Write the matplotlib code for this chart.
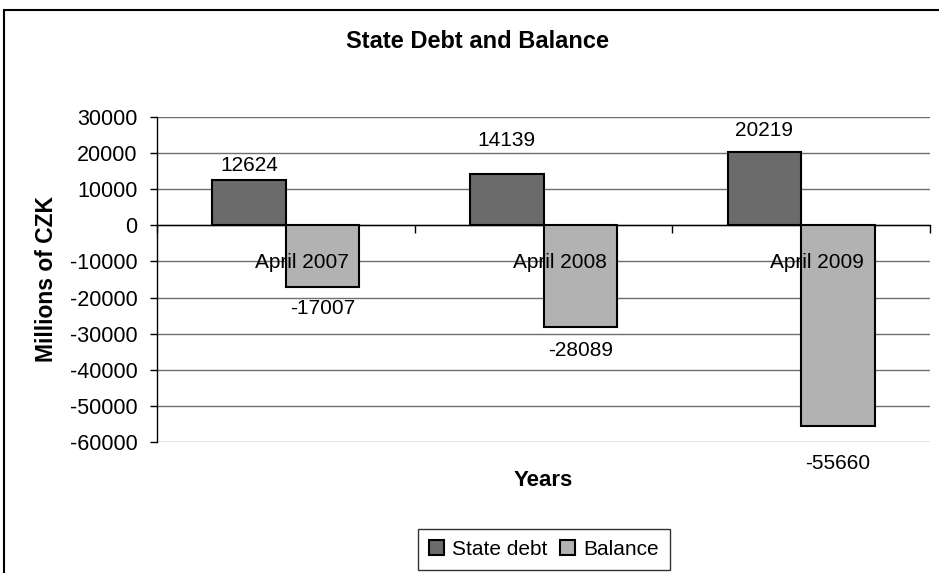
"""State debt and balance, Excel-style grouped bar chart."""

import matplotlib
matplotlib.use('Agg')
import matplotlib.pyplot as plt
from matplotlib.patches import Rectangle
import numpy as np

plt.rcParams['font.family'] = ['Liberation Sans', 'DejaVu Sans']

# data
categories = ['April 2007', 'April 2008', 'April 2009']
state_debt = [12624, 14139, 20219]
balance = [-17007, -28089, -55660]
yticks = list(range(-60000, 30001, 10000))

# label offsets in pixels (Excel put them a bit unevenly)
debt_lbl_off = [14, 34, 22]
bal_lbl_off = [22, 24, 37]

W, H = 939, 573
fig = plt.figure(figsize=(W / 100, H / 100), dpi=100)
ax = fig.add_axes([157 / W, 1 - 442 / H, (930 - 157) / W, (442 - 117) / H])

x = np.arange(len(categories))
bw = 1 / 3.5   # Excel gap width 150%

b1 = ax.bar(x - bw / 2, state_debt, bw, color='#6b6b6b', edgecolor='black',
            linewidth=1.5, label='State debt', zorder=3)
b2 = ax.bar(x + bw / 2, balance, bw, color='#b2b2b2', edgecolor='black',
            linewidth=1.5, label='Balance', zorder=3)

ax.set_xlim(-0.5, len(categories) - 0.5)
ax.set_ylim(-60000, 30000)
ax.set_yticks(yticks)
ax.set_yticklabels([str(v) for v in yticks], fontsize=15.5)
ax.yaxis.grid(True, color='#6e6e6e', linewidth=1, zorder=0)
ax.set_axisbelow(True)

for s in ['top', 'right']:
    ax.spines[s].set_visible(False)
ax.spines['left'].set_linewidth(1)
ax.spines['bottom'].set_position(('data', 0))
ax.spines['bottom'].set_linewidth(1)
ax.set_xticks(np.arange(-0.5, len(categories) + 0.5, 1))
ax.set_xticklabels([])
ax.tick_params(axis='x', direction='out', length=6, width=1)
ax.tick_params(axis='y', direction='out', length=5, width=1, pad=9)

# category names sit just under the zero line, nudged right like Excel did
for xi, name in zip(x, categories):
    ax.annotate(name, (xi, -10300), xytext=(16, 0), textcoords='offset pixels',
                ha='center', va='center', fontsize=15, zorder=4)

for rect, v, off in zip(b1, state_debt, debt_lbl_off):
    ax.annotate(str(v), (rect.get_x() + rect.get_width() / 2, v),
                xytext=(0, off), textcoords='offset pixels',
                ha='center', va='center', fontsize=15, annotation_clip=False)
for rect, v, off in zip(b2, balance, bal_lbl_off):
    ax.annotate(str(v), (rect.get_x() + rect.get_width() / 2, v),
                xytext=(0, -off), textcoords='offset pixels',
                ha='center', va='center', fontsize=15, annotation_clip=False)

ax.set_ylabel('Millions of CZK', fontsize=16.5, fontweight='bold')
ax.yaxis.set_label_coords((47 - 157) / 773, 0.5)
ax.set_xlabel('Years', fontsize=16, fontweight='bold')
ax.xaxis.set_label_coords(0.5, (442 - 481) / 325)
ax.xaxis.label.set_va('center')
ax.yaxis.label.set_va('center')

fig.text(478 / W, 1 - 42 / H, 'State Debt and Balance', ha='center', va='center',
         fontsize=17, fontweight='bold')

leg = fig.legend(handles=[b1, b2], loc='center', bbox_to_anchor=(544 / W, 1 - 549.5 / H),
                 ncol=2, fontsize=15, frameon=True, fancybox=False, shadow=False,
                 handlelength=0.7, handleheight=0.7, handletextpad=0.4,
                 columnspacing=0.6, borderpad=0.55)
leg.get_frame().set_edgecolor('black')
leg.get_frame().set_linewidth(1)

# outer chart border, runs off the right and bottom edges
fig.patches.append(Rectangle((4 / W, -0.1), 1.2, 1 - 10 / H + 0.1,
                             transform=fig.transFigure, fill=False,
                             edgecolor='black', linewidth=1.5))

fig.savefig('out.png', dpi=100)
